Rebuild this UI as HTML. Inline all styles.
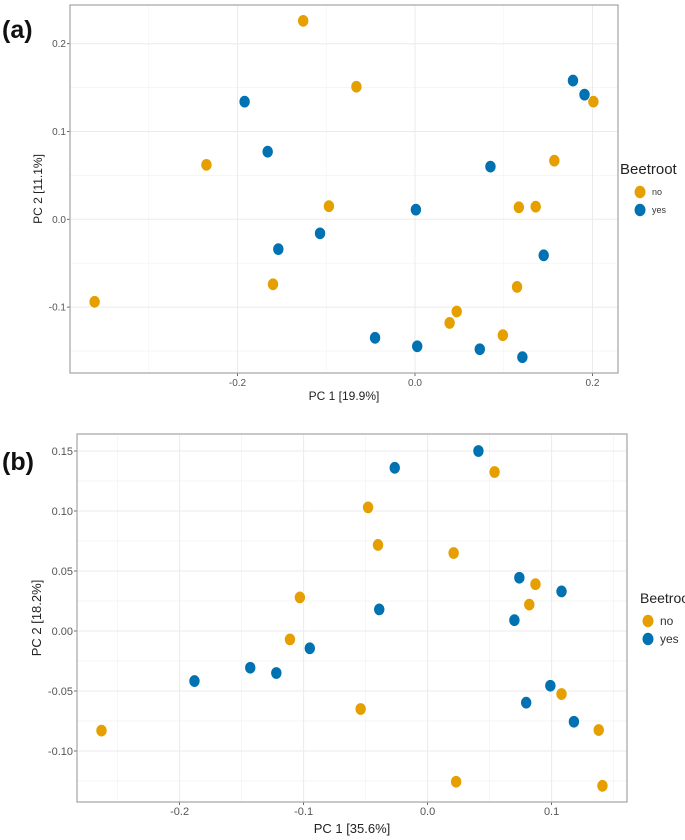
<!DOCTYPE html>
<html><head><meta charset="utf-8"><style>
html,body{margin:0;padding:0;background:#fff;}
svg{display:block;font-family:"Liberation Sans Narrow","Liberation Sans",sans-serif;}
</style></head><body>
<svg id="fig" width="685" height="840" viewBox="0 0 685 840"></svg>
<script>
// Panel (a) data
const aNoX=[-0.126,-0.066,-0.235,-0.097,-0.160,-0.361,0.047,0.039,0.099,0.115,0.117,0.136,0.157,0.201];
const aNoY=[0.226,0.151,0.062,0.015,-0.074,-0.094,-0.105,-0.118,-0.132,-0.077,0.0137,0.0144,0.0668,0.134];
const aYesX=[-0.192,-0.166,-0.154,-0.107,0.001,-0.045,0.0025,0.073,0.121,0.145,0.085,0.178,0.191];
const aYesY=[0.134,0.077,-0.034,-0.016,0.011,-0.135,-0.1446,-0.148,-0.157,-0.041,0.060,0.158,0.142];
const aXTicks=[-0.2,0.0,0.2];
const aXTickLabels=["-0.2","0.0","0.2"];
const aYTicks=[0.2,0.1,0.0,-0.1];
const aYTickLabels=["0.2","0.1","0.0","-0.1"];
// Panel (b) data
const bNoX=[0.054,-0.048,-0.040,0.021,0.087,0.082,-0.103,-0.111,-0.054,-0.263,0.108,0.138,0.023,0.141];
const bNoY=[0.1325,0.103,0.0717,0.065,0.039,0.022,0.028,-0.007,-0.065,-0.083,-0.0525,-0.0825,-0.1256,-0.129];
const bYesX=[0.041,-0.0265,0.074,0.108,0.070,-0.039,-0.095,-0.143,-0.122,-0.188,0.099,0.0795,0.118];
const bYesY=[0.150,0.136,0.0444,0.033,0.009,0.018,-0.0144,-0.0306,-0.035,-0.0417,-0.0456,-0.0597,-0.0756];
const bXTicks=[-0.2,-0.1,0.0,0.1];
const bXTickLabels=["-0.2","-0.1","0.0","0.1"];
const bYTicks=[0.15,0.10,0.05,0.00,-0.05,-0.10];
const bYTickLabels=["0.15","0.10","0.05","0.00","-0.05","-0.10"];

const NS="http://www.w3.org/2000/svg";
const svg=document.getElementById('fig');
function mk(tag,attrs,parent,text){const e=document.createElementNS(NS,tag);for(const k in attrs)e.setAttribute(k,attrs[k]);if(text!==undefined)e.textContent=text;(parent||svg).appendChild(e);return e;}

function panel(cfg){
  const g=mk('g',{});
  
  
  const sx=v=>cfg.x0+(v-cfg.xmin)/(cfg.xmax-cfg.xmin)*(cfg.x1-cfg.x0);
  const sy=v=>cfg.y1-(v-cfg.ymin)/(cfg.ymax-cfg.ymin)*(cfg.y1-cfg.y0);
  cfg.xMinor.forEach(v=>{const l=mk('line',{x1:sx(v),x2:sx(v),y1:cfg.y0,y2:cfg.y1,stroke:'#f2f2f2','stroke-width':0.7},g);});
  cfg.yMinor.forEach(v=>{const l=mk('line',{x1:cfg.x0,x2:cfg.x1,y1:sy(v),y2:sy(v),stroke:'#f2f2f2','stroke-width':0.7},g);});
  cfg.xt.forEach((v,i)=>{
    const l=mk('line',{x1:sx(v),x2:sx(v),y1:cfg.y0,y2:cfg.y1,stroke:'#ebebeb','stroke-width':1},g);
    
    mk('line',{x1:sx(v),x2:sx(v),y1:cfg.y1,y2:cfg.y1+3,stroke:'#444','stroke-width':0.8},g);
    const t=mk('text',{x:sx(v),y:cfg.y1+13,'text-anchor':'middle','font-size':cfg.tfs,fill:'#555'},g,cfg.xtl[i]);
    
  });
  cfg.yt.forEach((v,i)=>{
    const l=mk('line',{x1:cfg.x0,x2:cfg.x1,y1:sy(v),y2:sy(v),stroke:'#ebebeb','stroke-width':1},g);
    
    mk('line',{x1:cfg.x0-3,x2:cfg.x0,y1:sy(v),y2:sy(v),stroke:'#444','stroke-width':0.8},g);
    const t=mk('text',{x:cfg.x0-4,y:sy(v)+cfg.tfs*0.35,'text-anchor':'end','font-size':cfg.tfs,fill:'#555'},g,cfg.ytl[i]);
    
  });
  const b=mk('rect',{x:cfg.x0,y:cfg.y0,width:cfg.x1-cfg.x0,height:cfg.y1-cfg.y0,fill:'none',stroke:'#aaa','stroke-width':1.3},g);
  
  function pts(xs,ys,col,nm){xs.forEach((v,i)=>{const c=mk('ellipse',{cx:sx(v),cy:sy(ys[i]),rx:5.6,ry:6.3,fill:col,stroke:'#fff','stroke-width':0.8},g);});}
  pts(cfg.noX,cfg.noY,'#E69F00','point-no');
  pts(cfg.yesX,cfg.yesY,'#0072B2','point-yes');
  const xt=mk('text',{x:(cfg.x0+cfg.x1)/2,y:cfg.xTitleY,'text-anchor':'middle','font-size':cfg.afs,fill:'#222'},g,cfg.xTitle);
  
  const yt=mk('text',{x:0,y:0,'text-anchor':'middle','font-size':cfg.afs,fill:'#222',transform:`translate(${cfg.yTitleX},${(cfg.y0+cfg.y1)/2}) rotate(-90)`,'font-family':'Liberation Sans, sans-serif'},g,cfg.yTitle);
  
  const lab=mk('text',{x:2,y:cfg.labY,'font-size':25,'font-weight':'bold',fill:'#111','font-family':'Liberation Sans, sans-serif'},g,cfg.label);
  
  const lg=mk('g',{},g);
  const lt=mk('text',{x:cfg.legX,y:cfg.legY,'font-size':cfg.lfs,fill:'#222'},lg,'Beetroot');
  
  [['no','#E69F00'],['yes','#0072B2']].forEach((e,i)=>{
    const yy=cfg.legY+cfg.legD1+i*cfg.legStep;
    const c=mk('ellipse',{cx:cfg.legX+cfg.legDx,cy:yy,rx:5.5,ry:6.2,fill:e[1]},lg);
    
    const t=mk('text',{x:cfg.legX+cfg.legDx+12,y:yy+cfg.efs*0.35,'font-size':cfg.efs,fill:'#333'},lg,e[0]);
    
  });
}
panel({name:'panel-a',x0:70,x1:618,y0:5,y1:373,
  xmin:(70-415)/887.5,xmax:(618-415)/887.5,ymin:(219.3-373)/878,ymax:(219.3-5)/878,
  xt:aXTicks,xtl:aXTickLabels,yt:aYTicks,ytl:aYTickLabels,
  xMinor:[-0.3,-0.1,0.1],yMinor:[0.15,0.05,-0.05,-0.15],
  noX:aNoX,noY:aNoY,yesX:aYesX,yesY:aYesY,tfs:10,afs:12,
  xTitle:'PC 1 [19.9%]',xTitleY:400,yTitle:'PC 2 [11.1%]',yTitleX:42,label:'(a)',labY:38,
  legX:620,legY:174,legD1:18,legStep:18,legDx:20,lfs:15,efs:9});
panel({name:'panel-b',x0:77,x1:627,y0:434,y1:802,
  xmin:(77-427.6)/1240,xmax:(627-427.6)/1240,ymin:(631-802)/1200,ymax:(631-434)/1200,
  xt:bXTicks,xtl:bXTickLabels,yt:bYTicks,ytl:bYTickLabels,
  xMinor:[-0.25,-0.15,-0.05,0.05,0.15],yMinor:[0.125,0.075,0.025,-0.025,-0.075,-0.125],
  noX:bNoX,noY:bNoY,yesX:bYesX,yesY:bYesY,tfs:11,afs:13,
  xTitle:'PC 1 [35.6%]',xTitleY:833,yTitle:'PC 2 [18.2%]',yTitleX:41,label:'(b)',labY:470,
  legX:640,legY:603,legD1:18,legStep:18,legDx:8,lfs:14,efs:12});
</script>
</body></html>
